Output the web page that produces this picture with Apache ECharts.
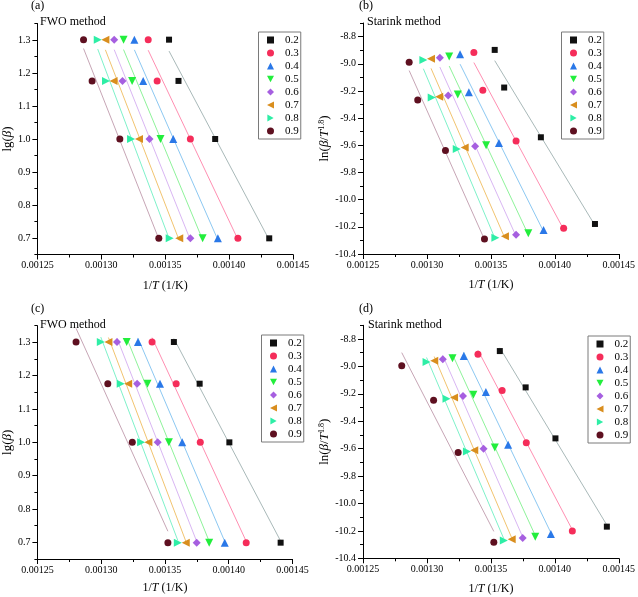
<!DOCTYPE html>
<html><head><meta charset="utf-8">
<script src="https://cdn.jsdelivr.net/npm/echarts@6/dist/echarts.min.js"></script>
<style>html,body{margin:0;padding:0;background:#fff}#c{width:638px;height:597px}</style>
</head><body><div id="c"></div>
<script>
// ---- data ----
const conversions = ['0.2','0.3','0.4','0.5','0.6','0.7','0.8','0.9'];
// lg(beta) for beta = 20, 15, 10, 5 K/min
const lgBeta = [1.301, 1.176, 1.000, 0.699];
// 1/T (1/K) for panels (a),(b); rows = conversions, cols = beta 20,15,10,5
const invT_top = [
  [0.0013530, 0.0013604, 0.0013891, 0.0014314],
  [0.0013367, 0.0013437, 0.0013697, 0.0014069],
  [0.0013259, 0.0013328, 0.0013563, 0.0013912],
  [0.0013174, 0.0013241, 0.0013463, 0.0013793],
  [0.0013101, 0.0013166, 0.0013377, 0.0013697],
  [0.0013032, 0.0013096, 0.0013295, 0.0013610],
  [0.0012972, 0.0013037, 0.0013233, 0.0013535],
  [0.0012861, 0.0012928, 0.0013145, 0.0013450]
];
// 1/T (1/K) for panels (c),(d)
const invT_bottom = [
  [0.0013570, 0.0013772, 0.0014005, 0.0014407],
  [0.0013399, 0.0013588, 0.0013777, 0.0014137],
  [0.0013288, 0.0013461, 0.0013635, 0.0013969],
  [0.0013200, 0.0013363, 0.0013531, 0.0013847],
  [0.0013124, 0.0013282, 0.0013443, 0.0013749],
  [0.0013057, 0.0013212, 0.0013370, 0.0013663],
  [0.0012997, 0.0013153, 0.0013313, 0.0013601],
  [0.0012803, 0.0013052, 0.0013244, 0.0013523]
];
// ln(beta/T^1.8) panel (b)
const lnB_b = [
  [-8.898, -9.175, -9.541, -10.179],
  [-8.918, -9.195, -9.568, -10.211],
  [-8.930, -9.210, -9.583, -10.223],
  [-8.947, -9.227, -9.600, -10.248],
  [-8.955, -9.234, -9.607, -10.258],
  [-8.964, -9.242, -9.617, -10.270],
  [-8.972, -9.249, -9.627, -10.280],
  [-8.989, -9.266, -9.639, -10.290]
];
// ln(beta/T^1.8) panel (d)
const lnB_d = [
  [-8.888, -9.153, -9.525, -10.169],
  [-8.912, -9.175, -9.557, -10.201],
  [-8.924, -9.187, -9.571, -10.222],
  [-8.941, -9.207, -9.591, -10.242],
  [-8.948, -9.216, -9.601, -10.252],
  [-8.958, -9.226, -9.611, -10.261],
  [-8.968, -9.236, -9.620, -10.271],
  [-8.995, -9.246, -9.628, -10.283]
];
const xTickValues = [0.00125, 0.00130, 0.00135, 0.00140, 0.00145];
const yTicksFWO = [0.7, 0.8, 0.9, 1.0, 1.1, 1.2, 1.3];
const yTicksStarink = [-10.4, -10.2, -10.0, -9.8, -9.6, -9.4, -9.2, -9.0, -8.8];
const panelLabels = ['(a)', '(b)', '(c)', '(d)'];
const methodLabels = ['FWO method', 'Starink method', 'FWO method', 'Starink method'];

// ---- styles ----
const FONT = 'Liberation Serif';
const markerColors = ['#111111','#F52D5A','#2A78E8','#22EE3C','#A65FE0','#D98E1E','#2EEEA6','#5E1020'];
const fitColors = ['#A9B9B9','#FF8FB2','#8CC8F2','#8EF39A','#D9B6F3','#F2C470','#7EF2CA','#C7A6B6'];
const symbols = ['rect','circle','triangle','path://M0,0L10,0L5,9Z','diamond','path://M10,0L10,10L0,5Z','path://M0,0L0,10L9,5Z','circle'];
const symbolSizes = [6, 7, 8, 8, 8, 8, 8, 7];

const panels = [
  {grid:{left:35, top:23.5, width:258, height:231}, xs:invT_top, ys:null, fwo:true,
   legend:{left:258.5, top:32}, label:{x:31, y:0}, method:{x:40, y:15.5}, nameGapX:25, nameGapY:20},
  {grid:{left:363, top:23, width:258, height:231}, xs:invT_top, ys:lnB_b, fwo:false,
   legend:{left:561.5, top:32}, label:{x:359, y:0}, method:{x:367, y:16}, nameGapX:25, nameGapY:29},
  {grid:{left:35, top:325.7, width:257.5, height:233.3}, xs:invT_bottom, ys:null, fwo:true,
   legend:{left:261.5, top:335}, label:{x:31, y:303}, method:{x:40, y:318.5}, nameGapX:23, nameGapY:20},
  {grid:{left:363, top:325.3, width:258, height:233}, xs:invT_bottom, ys:lnB_d, fwo:false,
   legend:{left:588, top:336}, label:{x:359, y:303}, method:{x:368, y:318.5}, nameGapX:25, nameGapY:30}
];

function fitLine(xs, ys) {
  const n = xs.length;
  const mx = xs.reduce((a,b)=>a+b,0)/n, my = ys.reduce((a,b)=>a+b,0)/n;
  let sxx = 0, sxy = 0;
  for (let i=0;i<n;i++){ sxx += (xs[i]-mx)*(xs[i]-mx); sxy += (xs[i]-mx)*(ys[i]-my); }
  const b = sxy/sxx, a = my - b*mx;
  const x0 = Math.min(...xs), x1 = Math.max(...xs);
  return [[x0, a+b*x0], [x1, a+b*x1]];
}

const axisLineStyle = {color:'#000', width:1};
const labelStyle = {fontFamily:FONT, fontSize:10, color:'#000'};
const richName = {
  n:{fontFamily:FONT, fontSize:13, color:'#000'},
  i:{fontFamily:FONT, fontSize:13, fontStyle:'italic', color:'#000'},
  s:{fontFamily:FONT, fontSize:8, color:'#000', verticalAlign:'top'}
};

const grids = [], xAxes = [], yAxes = [], series = [], legends = [], titles = [];
panels.forEach((p, pi) => {
  grids.push(Object.assign({containLabel:false}, p.grid));
  xAxes.push({
    type:'value', gridIndex:pi, min:0.00125, max:0.00145, interval:0.00005,
    name:'{n|1/}{i|T}{n| (1/K)}', nameLocation:'middle', nameGap:p.nameGapX,
    nameTextStyle:{fontFamily:FONT, fontSize:12, color:'#000', rich:{
      n:{fontFamily:FONT, fontSize:12, color:'#000'}, i:{fontFamily:FONT, fontSize:12, fontStyle:'italic', color:'#000'}}},
    axisLine:{show:true, onZero:false, lineStyle:axisLineStyle},
    axisTick:{show:true, inside:false, length:5, lineStyle:axisLineStyle},
    minorTick:{show:true, splitNumber:2, length:3, lineStyle:axisLineStyle},
    axisLabel:Object.assign({margin:6, formatter:v=>v.toFixed(5), customValues:xTickValues}, labelStyle),
    splitLine:{show:false}, minorSplitLine:{show:false}
  });
  const ymin = p.fwo ? 0.65 : -10.4, ymax = p.fwo ? 1.35 : -8.7, half = p.fwo ? 0.05 : 0.1;
  const majors = p.fwo ? yTicksFWO : yTicksStarink;
  const yName = p.fwo ? '{n|lg(}{i|β}{n|)}' : '{n|ln(}{i|β}{n|/}{i|T}{s|1.8}{n|)}';
  yAxes.push({
    type:'value', gridIndex:pi, min:ymin, max:ymax, interval:half,
    name:yName, nameLocation:'middle', nameGap:p.nameGapY,
    nameTextStyle:{fontFamily:FONT, fontSize:13, color:'#000', rich:richName},
    axisLine:{show:true, onZero:false, lineStyle:axisLineStyle},
    axisTick:{show:true, inside:false, length:3, lineStyle:axisLineStyle},
    axisLabel:Object.assign({margin:7, formatter:v=>v.toFixed(1), customValues:majors}, labelStyle),
    splitLine:{show:false}
  });
  yAxes.push({
    type:'value', gridIndex:pi, min:ymin, max:ymax, position:'left',
    axisLine:{show:false},
    axisTick:{show:true, inside:false, length:5, lineStyle:axisLineStyle, customValues:majors},
    axisLabel:{show:false}, splitLine:{show:false}
  });
  conversions.forEach((c, ci) => {
    const xs = p.xs[ci];
    const ys = p.ys ? p.ys[ci] : lgBeta;
    series.push({
      type:'line', name:'fit '+c+' '+pi, xAxisIndex:pi, yAxisIndex:2*pi,
      data:fitLine(xs, ys), showSymbol:false, symbol:'none', silent:true, z:1,
      lineStyle:{color:fitColors[ci], width:1}, animation:false
    });
    series.push({
      type:'scatter', name:c, xAxisIndex:pi, yAxisIndex:2*pi,
      data:xs.map((x,k)=>[x, ys[k]]), symbol:symbols[ci], symbolSize:symbolSizes[ci], z:3,
      itemStyle:{color:markerColors[ci], opacity:1}, animation:false
    });
  });
  legends.push({
    data:conversions.map((c, ci) => ({name:c, icon:symbols[ci]})),
    orient:'vertical', left:p.legend.left, top:p.legend.top,
    borderColor:'#7a7a7a', borderWidth:1, padding:[1.5,2,1.5,8.5],
    itemWidth:7, itemHeight:7, itemGap:0, selectedMode:false,
    formatter: name => '{t|' + name + '}',
    textStyle:{fontFamily:FONT, fontSize:11, lineHeight:13, color:'#000',
      rich:{t:{fontFamily:FONT, fontSize:11, lineHeight:13, color:'#000', padding:[0,0,0,6]}}}
  });
  titles.push({text:panelLabels[pi], left:p.label.x, top:p.label.y, padding:0,
    textStyle:{fontFamily:FONT, fontSize:12, fontWeight:'normal', color:'#000'}});
  titles.push({text:methodLabels[pi], left:p.method.x, top:p.method.y, padding:0,
    textStyle:{fontFamily:FONT, fontSize:12, fontWeight:'normal', color:'#000'}});
});

const chart = echarts.init(document.getElementById('c'), null, {renderer:'canvas'});
chart.setOption({
  backgroundColor:'#fff', animation:false,
  title:titles, legend:legends, grid:grids, xAxis:xAxes, yAxis:yAxes, series:series
});
</script></body></html>
